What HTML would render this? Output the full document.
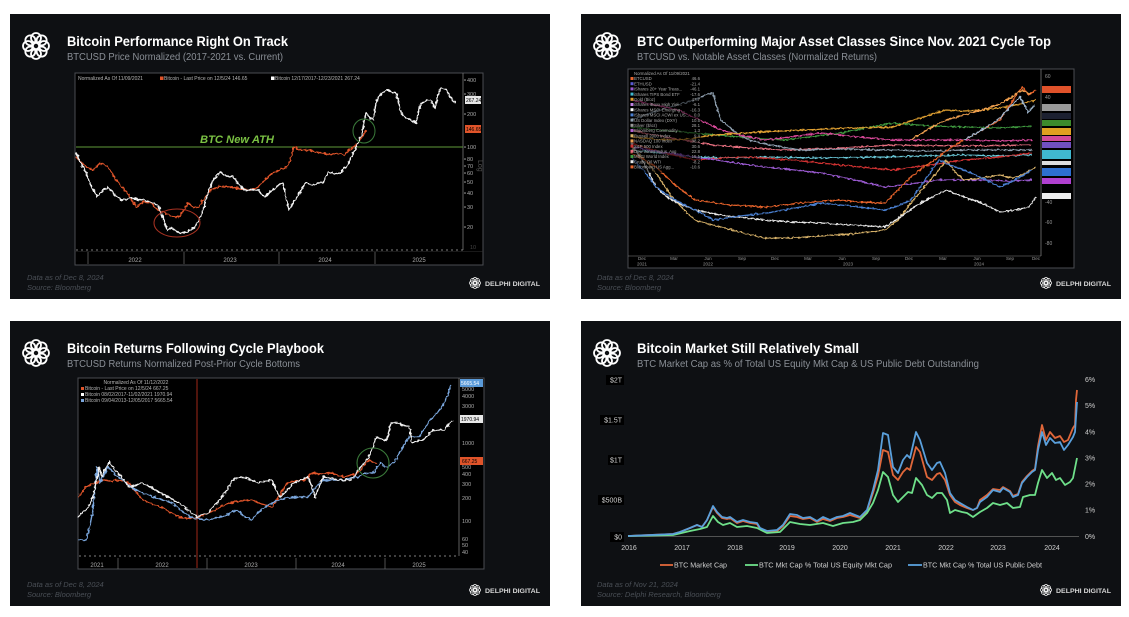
<!DOCTYPE html>
<html>
<head>
<meta charset="utf-8">
<style>
html,body{margin:0;padding:0;background:#fff;}
svg{display:block;}
text{font-family:"Liberation Sans",sans-serif;}
</style>
</head>
<body>
<svg width="1129" height="617" viewBox="0 0 1129 617" xmlns="http://www.w3.org/2000/svg">
<defs>
  <g id="logo" fill="none" stroke="#fff" stroke-width="1.8">
    <circle cx="8" cy="0" r="5"/><circle cx="5.66" cy="5.66" r="5"/>
    <circle cx="0" cy="8" r="5"/><circle cx="-5.66" cy="5.66" r="5"/>
    <circle cx="-8" cy="0" r="5"/><circle cx="-5.66" cy="-5.66" r="5"/>
    <circle cx="0" cy="-8" r="5"/><circle cx="5.66" cy="-5.66" r="5"/>
  </g>
  <filter id="jit" x="-5%" y="-10%" width="110%" height="120%">
    <feTurbulence type="fractalNoise" baseFrequency="0.35" numOctaves="1" seed="4" result="n"/>
    <feDisplacementMap in="SourceGraphic" in2="n" scale="4" xChannelSelector="R" yChannelSelector="G"/>
  </filter>
  <filter id="jit2" x="-5%" y="-10%" width="110%" height="120%">
    <feTurbulence type="fractalNoise" baseFrequency="0.4" numOctaves="1" seed="9" result="n"/>
    <feDisplacementMap in="SourceGraphic" in2="n" scale="3.5" xChannelSelector="R" yChannelSelector="G"/>
  </filter>
</defs>

<!-- ================= PANEL 1 ================= -->
<rect x="10" y="14" width="540" height="285" fill="#0e1013"/>
<use href="#logo" x="36" y="46"/>
<text x="67" y="46" font-size="13.5" font-weight="bold" fill="#fff" textLength="221" lengthAdjust="spacingAndGlyphs">Bitcoin Performance Right On Track</text>
<text x="67" y="60" font-size="10" fill="#8a8f96" textLength="216" lengthAdjust="spacingAndGlyphs">BTCUSD Price Normalized (2017-2021 vs. Current)</text>
<rect x="75" y="73" width="408" height="192" fill="#000" stroke="#4a4d52" stroke-width="1"/>
<line x1="463" y1="73" x2="463" y2="250" stroke="#777" stroke-width="0.8"/>
<line x1="76" y1="250" x2="463" y2="250" stroke="#aaa" stroke-width="0.8" stroke-dasharray="2,3"/>
<line x1="75" y1="251.5" x2="483" y2="251.5" stroke="#333" stroke-width="0.6"/>
<g stroke="#666" stroke-width="0.8">
<line x1="88" y1="252" x2="88" y2="264"/><line x1="184" y1="252" x2="184" y2="264"/><line x1="279" y1="252" x2="279" y2="264"/><line x1="375" y1="252" x2="375" y2="264"/>
</g>
<g font-size="6" fill="#aaa" text-anchor="middle">
<text x="135" y="262">2022</text><text x="230" y="262">2023</text><text x="325" y="262">2024</text><text x="419" y="262">2025</text>
</g>
<g font-size="5" fill="#b5b5b5">
<text x="78" y="80">Normalized As Of 11/09/2021</text>
<rect x="160" y="76.5" width="3.5" height="3.5" fill="#e0542a"/>
<text x="164" y="80">Bitcoin - Last Price on 12/5/24 146.65</text>
<rect x="271" y="76.5" width="3.5" height="3.5" fill="#fff"/>
<text x="275" y="80">Bitcoin 12/17/2017-12/23/2021 267.24</text>
</g>
<g font-size="5.5" fill="#aaa">
<text x="467" y="82">400</text><text x="467" y="96">300</text><text x="467" y="116">200</text>
<text x="467" y="149">100</text><text x="467" y="161">80</text><text x="467" y="168">70</text>
<text x="467" y="175">60</text><text x="467" y="184">50</text><text x="467" y="195">40</text>
<text x="467" y="209">30</text><text x="467" y="229">20</text>
<text x="470" y="249" fill="#444">10</text>
</g>
<g fill="#aaa"><circle cx="465" cy="80" r="0.8"/><circle cx="465" cy="94" r="0.8"/><circle cx="465" cy="114" r="0.8"/><circle cx="465" cy="147" r="0.8"/><circle cx="465" cy="159" r="0.8"/><circle cx="465" cy="166" r="0.8"/><circle cx="465" cy="173" r="0.8"/><circle cx="465" cy="182" r="0.8"/><circle cx="465" cy="193" r="0.8"/><circle cx="465" cy="207" r="0.8"/><circle cx="465" cy="227" r="0.8"/></g>
<text x="478" y="160" font-size="7" fill="#555" transform="rotate(90 478 160)">Log</text>
<rect x="465" y="96" width="16" height="8" fill="#e6e6e6"/>
<text x="466" y="102" font-size="5" fill="#000">267.24</text>
<rect x="465" y="125" width="16" height="8" fill="#e0542a"/>
<text x="466" y="131" font-size="5" fill="#000">146.65</text>
<line x1="76" y1="147" x2="463" y2="147" stroke="#5f9a3a" stroke-width="1"/>
<text x="200" y="143" font-size="11" font-weight="bold" font-style="italic" fill="#7ac143" textLength="74" lengthAdjust="spacingAndGlyphs">BTC New ATH</text>
<g fill="none" stroke-width="1.4" stroke-linejoin="round" filter="url(#jit)">
<polyline stroke="#e0542a" points="76,157 84,165 93,170 100,163 108,167 115,178 122,187 129,196 136,207 143,202 151,203 158,210 165,213 172,216 179,217 184,210 188,203 194,208 199,207 205,197 211,190 220,186 229,187 240,189 251,190 258,187 265,180 272,173 280,170 287,167 291,158 294,147 301,150 308,150 315,152 323,153 330,155 337,153 344,155 349,150 354,147 358,143 362,137 366,130"/>
<polyline stroke="#f2f2f2" points="76,153 81,163 86,173 92,188 97,197 103,190 108,187 115,195 122,200 130,198 143,200 150,202 158,205 163,218 167,230 172,228 179,233 187,232 195,227 199,220 202,213 205,203 208,193 213,180 220,172 227,176 233,177 238,183 244,190 250,190 258,190 262,195 265,197 270,192 276,187 280,184 283,183 286,197 289,210 293,203 297,197 301,190 305,183 312,185 318,183 323,183 328,172 334,174 340,173 346,167 351,158 355,150 359,140 362,133 364,122 366,113 370,118 373,120 376,103 378,97 383,92 387,90 392,92 396,93 399,103 401,113 406,118 411,120 416,123 419,110 421,103 426,101 430,100 433,104 435,108 438,96 441,88 444,89 446,90 450,96 455,103"/>
</g>
<ellipse cx="177" cy="223" rx="23" ry="14" fill="none" stroke="#a83222" stroke-width="1"/>
<ellipse cx="364" cy="131" rx="11" ry="12" fill="none" stroke="#3a7a3a" stroke-width="1"/>
<text x="27" y="280" font-size="7.5" font-style="italic" fill="#4a4f56">Data as of Dec 8, 2024</text>
<text x="27" y="290" font-size="7.5" font-style="italic" fill="#4a4f56">Source: Bloomberg</text>
<use href="#logo" transform="translate(475 283) scale(0.42)"/>
<text x="485" y="286" font-size="6.5" font-weight="bold" fill="#d8d8d8" textLength="55" lengthAdjust="spacingAndGlyphs">DELPHI DIGITAL</text>

<!-- ================= PANEL 2 ================= -->
<rect x="581" y="14" width="540" height="285" fill="#0e1013"/>
<use href="#logo" x="607" y="46"/>
<text x="637" y="46" font-size="13.5" font-weight="bold" fill="#fff" textLength="414" lengthAdjust="spacingAndGlyphs">BTC Outperforming Major Asset Classes Since Nov. 2021 Cycle Top</text>
<text x="637" y="60" font-size="10" fill="#8a8f96" textLength="240" lengthAdjust="spacingAndGlyphs">BTCUSD vs. Notable Asset Classes (Normalized Returns)</text>
<rect x="628" y="69" width="446" height="199" fill="#000" stroke="#4a4d52" stroke-width="1"/>
<line x1="1041" y1="69" x2="1041" y2="256" stroke="#777" stroke-width="0.8"/>
<line x1="628" y1="256" x2="1041" y2="256" stroke="#888" stroke-width="0.6"/>
<g font-size="4.5" fill="#999" text-anchor="middle">
<text x="642" y="260">Dec</text><text x="674" y="260">Mar</text><text x="708" y="260">Jun</text><text x="742" y="260">Sep</text>
<text x="775" y="260">Dec</text><text x="808" y="260">Mar</text><text x="842" y="260">Jun</text><text x="876" y="260">Sep</text>
<text x="909" y="260">Dec</text><text x="943" y="260">Mar</text><text x="977" y="260">Jun</text><text x="1010" y="260">Sep</text><text x="1036" y="260">Dec</text>
<text x="642" y="265.5">2021</text><text x="708" y="265.5">2022</text><text x="848" y="265.5">2023</text><text x="979" y="265.5">2024</text>
</g>
<g font-size="5" fill="#999">
<text x="1045" y="78">60</text><text x="1045" y="99">40</text><text x="1045" y="119">20</text>
<text x="1045" y="204">-40</text><text x="1045" y="224">-60</text><text x="1045" y="245">-80</text>
</g>
<g fill="none" stroke-width="1.35" stroke-linejoin="round" filter="url(#jit2)">
<polyline stroke="#3f9a3f" points="631,127 660,130 695,133 740,137 785,140 840,133 893,123 930,126 964,127 1000,128 1032,126"/>
<polyline stroke="#6ac8d8" points="631,150 660,153 695,157 730,158 764,157 820,158 885,157 920,156 964,155 1000,156 1032,155"/>
<polyline stroke="#d03030" points="631,143 660,152 695,160 720,158 749,157 790,160 821,163 860,167 893,170 930,165 964,160 1000,157 1032,153"/>
<polyline stroke="#e87080" points="631,130 670,138 713,145 750,148 785,150 840,148 893,145 960,146 1032,145"/>
<polyline stroke="#8fa0b0" points="631,120 660,110 680,104 695,100 705,95 713,93 717,108 721,120 735,132 749,140 770,145 800,150 840,149 885,150 930,151 964,150 1000,150 1032,150"/>
<polyline stroke="#9a5ad0" points="631,147 660,152 695,157 730,162 764,167 795,170 821,173 855,180 885,187 910,184 939,180 960,180 982,180 1010,181 1032,180"/>
<polyline stroke="#d9489a" points="631,100 655,105 678,110 700,120 721,130 740,135 764,140 790,137 821,133 860,137 893,140 930,140 964,140 1000,141 1032,140"/>
<polyline stroke="#e0a030" points="631,137 655,139 678,140 695,138 713,135 760,132 803,130 850,128 893,127 920,118 946,110 964,111 982,110 1005,107 1025,103 1036,100"/>
<polyline stroke="#d9b36a" points="631,147 645,160 656,173 662,182 667,190 672,197 678,203 686,212 695,220 705,223 713,225 740,232 764,238 790,238 821,236 850,234 885,230 898,220 911,203 925,186 939,170 946,160 955,172 964,180 982,178 1000,175 1012,178 1022,175 1036,167"/>
<polyline stroke="#e8e8e8" points="631,143 645,165 656,187 667,197 678,203 695,210 720,215 764,220 790,222 821,223 850,225 885,227 900,217 914,207 930,198 946,190 964,197 982,203 1000,212 1015,210 1029,207 1036,197"/>
<polyline stroke="#4a7fd0" points="631,157 645,172 656,187 675,200 695,210 705,215 713,220 740,216 767,213 795,208 821,203 850,206 885,210 898,206 911,200 925,180 939,160 950,165 964,170 982,178 1000,187 1015,180 1032,170"/>
<polyline stroke="#e8642c" points="631,153 645,160 656,167 675,185 695,200 730,205 767,207 800,203 839,200 860,202 885,203 898,190 911,177 925,166 939,157 950,148 964,140 982,130 1000,120 1010,105 1022,87 1029,95 1036,90"/>
<polyline stroke="#f0a050" points="911,140 930,128 946,120 964,115 982,110 1000,104 1012,97 1022,90 1030,94"/>
<polyline stroke="#a0b8d0" points="964,140 985,128 1000,118 1012,105 1020,97 1028,112 1035,105"/>
</g>
<rect x="629" y="70" width="72" height="103" fill="#000" opacity="0.55"/>
<g font-size="4.3" fill="#aaa">
<text x="634" y="75">Normalized As Of 11/09/2021</text>
<text x="634" y="80.2">BTCUSD</text><text x="634" y="85.4">ETHUSD</text><text x="634" y="90.6">iShares 20+ Year Treas...</text>
<text x="634" y="95.8">iShares TIPS Bond ETF</text><text x="634" y="101">Gold ($/oz)</text><text x="634" y="106.2">iShares iBoxx High Yiel...</text>
<text x="634" y="111.4">iShares MSCI Emerging ...</text><text x="634" y="116.6">iShares MSCI ACWI ex US...</text><text x="634" y="121.8">US Dollar Index (DXY)</text>
<text x="634" y="127">Silver ($/oz)</text><text x="634" y="132.2">Bloomberg Commodity ...</text><text x="634" y="137.4">Russell 2000 Index</text>
<text x="634" y="142.6">NASDAQ 100 Index</text><text x="634" y="147.8">S&amp;P 500 Index</text><text x="634" y="153">Dow Jones Indus. Avg</text>
<text x="634" y="158.2">MSCI World Index</text><text x="634" y="163.4">Crude Oil WTI</text><text x="634" y="168.6">Bloomberg US Agg...</text>
</g>
<g font-size="4.3" fill="#aaa" text-anchor="end">
<text x="700" y="80.2">46.6</text><text x="700" y="85.4">-21.4</text><text x="700" y="90.6">-46.1</text><text x="700" y="95.8">-17.6</text>
<text x="700" y="101">47.7</text><text x="700" y="106.2">-6.1</text><text x="700" y="111.4">-16.3</text><text x="700" y="116.6">0.0</text>
<text x="700" y="121.8">10.5</text><text x="700" y="127">28.1</text><text x="700" y="132.2">1.3</text><text x="700" y="137.4">9.4</text>
<text x="700" y="142.6">38.2</text><text x="700" y="147.8">30.6</text><text x="700" y="153">22.8</text><text x="700" y="158.2">15.1</text>
<text x="700" y="163.4">-8.2</text><text x="700" y="168.6">-10.6</text>
</g>
<g>
<rect x="630.5" y="77" width="3" height="3" fill="#e8642c"/><rect x="630.5" y="82.2" width="3" height="3" fill="#5a5ad0"/>
<rect x="630.5" y="87.4" width="3" height="3" fill="#9a5ad0"/><rect x="630.5" y="92.6" width="3" height="3" fill="#40b8d0"/>
<rect x="630.5" y="97.8" width="3" height="3" fill="#e0a030"/><rect x="630.5" y="103" width="3" height="3" fill="#c080e0"/>
<rect x="630.5" y="108.2" width="3" height="3" fill="#fff"/><rect x="630.5" y="113.4" width="3" height="3" fill="#4a7fd0"/>
<rect x="630.5" y="118.6" width="3" height="3" fill="#8fa0b0"/><rect x="630.5" y="123.8" width="3" height="3" fill="#999"/>
<rect x="630.5" y="129" width="3" height="3" fill="#b060d0"/><rect x="630.5" y="134.2" width="3" height="3" fill="#d9b36a"/>
<rect x="630.5" y="139.4" width="3" height="3" fill="#f0a050"/><rect x="630.5" y="144.6" width="3" height="3" fill="#d03030"/>
<rect x="630.5" y="149.8" width="3" height="3" fill="#e87080"/><rect x="630.5" y="155" width="3" height="3" fill="#3f9a3f"/>
<rect x="630.5" y="160.2" width="3" height="3" fill="#eee"/><rect x="630.5" y="165.4" width="3" height="3" fill="#e8642c"/>
</g>
<g>
<rect x="1042" y="86" width="29" height="7" fill="#e0522a"/>
<rect x="1042" y="104" width="29" height="7" fill="#9a9a9a"/>
<rect x="1042" y="113" width="29" height="6" fill="#1c2030"/>
<rect x="1042" y="120" width="29" height="6" fill="#3c8a2c"/>
<rect x="1042" y="128" width="29" height="7" fill="#e0a020"/>
<rect x="1042" y="136" width="29" height="5" fill="#d04a9a"/>
<rect x="1042" y="142" width="29" height="6" fill="#7050c0"/>
<rect x="1042" y="150" width="29" height="9" fill="#40b8d0"/>
<rect x="1042" y="161" width="29" height="4" fill="#dddddd"/>
<rect x="1042" y="168" width="29" height="8" fill="#2d6fd0"/>
<rect x="1042" y="178" width="29" height="6" fill="#b040d0"/>
<rect x="1042" y="193" width="29" height="6" fill="#eeeeee"/>
</g>
<text x="597" y="280" font-size="7.5" font-style="italic" fill="#4a4f56">Data as of Dec 8, 2024</text>
<text x="597" y="290" font-size="7.5" font-style="italic" fill="#4a4f56">Source: Bloomberg</text>
<use href="#logo" transform="translate(1046 283) scale(0.42)"/>
<text x="1056" y="286" font-size="6.5" font-weight="bold" fill="#d8d8d8" textLength="55" lengthAdjust="spacingAndGlyphs">DELPHI DIGITAL</text>

<!-- ================= PANEL 3 ================= -->
<rect x="10" y="321" width="540" height="285" fill="#0e1013"/>
<use href="#logo" x="36" y="353"/>
<text x="67" y="353" font-size="13.5" font-weight="bold" fill="#fff" textLength="257" lengthAdjust="spacingAndGlyphs">Bitcoin Returns Following Cycle Playbook</text>
<text x="67" y="367" font-size="10" fill="#8a8f96" textLength="233" lengthAdjust="spacingAndGlyphs">BTCUSD Returns Normalized Post-Prior Cycle Bottoms</text>
<rect x="78" y="378" width="406" height="191" fill="#000" stroke="#4a4d52" stroke-width="1"/>
<line x1="459" y1="378" x2="459" y2="556" stroke="#777" stroke-width="0.8"/>
<line x1="79" y1="556" x2="459" y2="556" stroke="#aaa" stroke-width="0.8" stroke-dasharray="2,3"/>
<g stroke="#666" stroke-width="0.8">
<line x1="118" y1="558" x2="118" y2="569"/><line x1="207" y1="558" x2="207" y2="569"/><line x1="296" y1="558" x2="296" y2="569"/><line x1="385" y1="558" x2="385" y2="569"/>
</g>
<g font-size="6" fill="#aaa" text-anchor="middle">
<text x="97" y="567">2021</text><text x="162" y="567">2022</text><text x="251" y="567">2023</text><text x="338" y="567">2024</text><text x="419" y="567">2025</text>
</g>
<line x1="197" y1="379" x2="197" y2="568" stroke="#a02818" stroke-width="1"/>
<g font-size="5" fill="#b5b5b5">
<text x="136" y="384" text-anchor="middle">Normalized As Of 11/12/2022</text>
<rect x="81" y="387" width="3" height="3" fill="#e0542a"/>
<text x="85" y="390">Bitcoin - Last Price on 12/5/24   667.25</text>
<rect x="81" y="393" width="3" height="3" fill="#fff"/>
<text x="85" y="396">Bitcoin 08/02/2017-11/02/2021 1970.94</text>
<rect x="81" y="399" width="3" height="3" fill="#7aa6dc"/>
<text x="85" y="402">Bitcoin 09/04/2013-12/05/2017 5665.54</text>
</g>
<g font-size="5.5" fill="#aaa">
<text x="462" y="391">5000</text><text x="462" y="398">4000</text><text x="462" y="408">3000</text>
<text x="462" y="445">1000</text><text x="462" y="469">500</text><text x="462" y="476">400</text>
<text x="462" y="486">300</text><text x="462" y="500">200</text><text x="462" y="523">100</text>
<text x="462" y="541">60</text><text x="462" y="547">50</text><text x="462" y="554">40</text>
</g>
<g fill="none" stroke-width="1.4" stroke-linejoin="round" filter="url(#jit)">
<polyline stroke="#e0542a" points="78,497 82,492 86,487 90,485 95,483 100,481 104,480 110,481 115,480 122,481 129,483 136,492 143,500 152,504 161,507 170,512 179,517 188,518 197,518 206,514 215,510 222,506 229,503 240,501 251,500 262,504 272,507 280,495 287,483 296,481 305,480 309,476 312,473 320,474 330,473 337,475 344,477 351,475 358,473 363,467 369,460 373,462 376,463"/>
<polyline stroke="#7aa6dc" points="78,540 86,540 90,525 93,510 95,488 97,467 100,483 104,475 108,467 115,474 122,480 129,485 136,490 145,494 154,497 163,500 172,503 181,510 190,517 199,519 208,520 215,518 222,517 230,513 237,510 244,516 251,520 258,513 265,507 272,503 280,500 287,498 294,497 301,497 308,497 315,488 323,480 333,480 344,480 351,478 358,477 362,475 366,473 370,473 373,473 377,468 380,463 384,466 387,467 391,464 394,463 400,452 405,443 409,437 414,437 419,437 425,428 430,420 434,416 437,413 441,408 444,403 448,394 451,385"/>
<polyline stroke="#f2f2f2" points="78,517 82,513 86,510 90,503 93,497 96,482 99,467 102,477 105,470 109,462 113,467 118,473 124,480 129,487 136,485 143,483 152,488 161,493 170,498 179,503 188,510 197,517 202,515 208,513 215,505 222,497 228,488 233,480 238,478 244,477 251,480 258,483 265,481 272,480 276,490 280,497 287,490 294,483 301,480 308,477 312,487 315,497 319,487 323,477 330,478 337,480 344,480 351,480 355,475 358,470 364,463 369,457 373,447 376,437 381,439 387,440 389,431 391,423 395,423 398,423 403,425 409,427 411,435 412,443 417,441 423,440 428,435 434,430 439,430 444,430 448,425 452,420"/>
</g>
<ellipse cx="373" cy="463" rx="16" ry="15" fill="none" stroke="#3a7a3a" stroke-width="1.1"/>
<rect x="460" y="379" width="23" height="8" fill="#5a9ad8"/>
<text x="461" y="385" font-size="5" fill="#fff">5665.54</text>
<rect x="460" y="415" width="23" height="8" fill="#e8e8e8"/>
<text x="461" y="421" font-size="5" fill="#000">1970.94</text>
<rect x="460" y="457" width="23" height="8" fill="#e0542a"/>
<text x="462" y="463" font-size="5" fill="#000">667.25</text>
<text x="27" y="587" font-size="7.5" font-style="italic" fill="#4a4f56">Data as of Dec 8, 2024</text>
<text x="27" y="597" font-size="7.5" font-style="italic" fill="#4a4f56">Source: Bloomberg</text>
<use href="#logo" transform="translate(475 590) scale(0.42)"/>
<text x="485" y="593" font-size="6.5" font-weight="bold" fill="#d8d8d8" textLength="55" lengthAdjust="spacingAndGlyphs">DELPHI DIGITAL</text>

<!-- ================= PANEL 4 ================= -->
<rect x="581" y="321" width="540" height="285" fill="#0e1013"/>
<use href="#logo" x="607" y="353"/>
<text x="637" y="353" font-size="13.5" font-weight="bold" fill="#fff" textLength="222" lengthAdjust="spacingAndGlyphs">Bitcoin Market Still Relatively Small</text>
<text x="637" y="367" font-size="10" fill="#8a8f96" textLength="342" lengthAdjust="spacingAndGlyphs">BTC Market Cap as % of Total US Equity Mkt Cap &amp; US Public Debt Outstanding</text>
<g>
<rect x="606" y="375" width="18" height="10" fill="#000"/>
<rect x="600" y="415" width="24" height="10" fill="#000"/>
<rect x="608" y="455" width="16" height="10" fill="#000"/>
<rect x="598" y="495" width="26" height="10" fill="#000"/>
<rect x="610" y="532" width="14" height="10" fill="#000"/>
</g>
<g font-size="7" fill="#cfcfcf" text-anchor="end">
<text x="622" y="382.5">$2T</text><text x="622" y="422.5">$1.5T</text><text x="622" y="462.5">$1T</text>
<text x="622" y="502.5">$500B</text><text x="622" y="539.5">$0</text>
</g>
<g font-size="7" fill="#cfcfcf">
<text x="1085" y="382">6%</text><text x="1085" y="408">5%</text><text x="1085" y="434.5">4%</text>
<text x="1085" y="460.5">3%</text><text x="1085" y="486.5">2%</text><text x="1085" y="512.5">1%</text><text x="1085" y="539">0%</text>
</g>
<line x1="628" y1="536.5" x2="1079" y2="536.5" stroke="#6a6a6a" stroke-width="0.8"/>
<g font-size="7" fill="#cfcfcf" text-anchor="middle">
<text x="629" y="550">2016</text><text x="682" y="550">2017</text><text x="735" y="550">2018</text><text x="787" y="550">2019</text>
<text x="840" y="550">2020</text><text x="893" y="550">2021</text><text x="946" y="550">2022</text><text x="998" y="550">2023</text><text x="1052" y="550">2024</text>
</g>
<g fill="none" stroke-width="1.8" stroke-linejoin="round">
<polyline stroke="#e0673a" points="628,536 673,534 680,532 690,528 697,525 702,527 707,520 713,507 717,513 722,518 727,519 730,518 737,523 743,521 750,523 757,524 760,529 767,532 777,531 783,526 790,516 797,517 803,519 810,518 817,522 823,519 830,521 837,518 843,517 850,515 860,518 867,511 873,493 878,476 883,450 888,452 893,475 898,480 903,472 907,468 910,470 916,447 920,452 927,477 932,480 937,474 940,473 945,480 950,495 955,502 960,505 967,508 973,510 977,508 980,500 987,495 993,489 1000,490 1003,487 1010,491 1013,496 1018,494 1022,482 1027,476 1032,471 1035,469 1038,446 1042,425 1046,440 1050,432 1055,438 1060,436 1064,442 1068,440 1073,428 1075,425 1076,400 1077,390"/>
<polyline stroke="#6fe08a" points="628,536 673,535 690,531 700,529 707,527 713,516 718,522 723,525 730,523 737,527 747,526 757,528 767,533 780,532 790,522 800,524 810,525 823,523 833,526 843,523 853,522 860,520 867,513 873,503 878,490 883,472 888,477 893,495 898,502 903,497 908,492 912,493 916,478 922,485 927,495 932,498 937,493 942,493 947,500 950,513 955,510 962,512 967,513 973,517 980,512 987,508 993,503 1000,505 1007,503 1013,508 1020,507 1023,497 1030,495 1035,495 1038,483 1042,470 1047,478 1052,473 1056,480 1060,478 1065,485 1070,482 1073,478 1077,458"/>
<polyline stroke="#5aa0dc" points="628,536 673,534 680,532 690,528 697,525 702,527 707,520 713,506 717,512 722,517 727,518 730,517 737,522 743,520 750,522 757,523 760,528 767,531 777,530 783,525 790,514 797,515 803,518 810,517 817,521 823,517 830,520 837,517 843,516 850,513 860,517 867,510 873,490 878,470 883,433 888,435 893,467 898,473 903,460 907,455 910,458 916,432 920,440 927,463 932,470 937,463 940,462 945,473 950,493 955,500 960,503 967,507 973,510 977,508 980,502 987,497 993,490 1000,492 1003,488 1010,492 1013,497 1018,495 1022,483 1027,477 1032,472 1035,470 1038,450 1042,432 1046,445 1050,438 1055,443 1060,442 1064,450 1068,445 1073,437 1075,432 1077,402"/>
</g>
<line x1="660" y1="565" x2="673" y2="565" stroke="#e0673a" stroke-width="1.8"/>
<text x="674" y="567.5" font-size="7" fill="#cfcfcf" textLength="53" lengthAdjust="spacingAndGlyphs">BTC Market Cap</text>
<line x1="745" y1="565" x2="758" y2="565" stroke="#6fe08a" stroke-width="1.8"/>
<text x="759" y="567.5" font-size="7" fill="#cfcfcf" textLength="133" lengthAdjust="spacingAndGlyphs">BTC Mkt Cap % Total US Equity Mkt Cap</text>
<line x1="908" y1="565" x2="922" y2="565" stroke="#5aa0dc" stroke-width="1.8"/>
<text x="923" y="567.5" font-size="7" fill="#cfcfcf" textLength="119" lengthAdjust="spacingAndGlyphs">BTC Mkt Cap % Total US Public Debt</text>
<text x="597" y="587" font-size="7.5" font-style="italic" fill="#4a4f56">Data as of Nov 21, 2024</text>
<text x="597" y="597" font-size="7.5" font-style="italic" fill="#4a4f56">Source: Delphi Research, Bloomberg</text>
<use href="#logo" transform="translate(1046 590) scale(0.42)"/>
<text x="1056" y="593" font-size="6.5" font-weight="bold" fill="#d8d8d8" textLength="55" lengthAdjust="spacingAndGlyphs">DELPHI DIGITAL</text>
</svg>
</body>
</html>
